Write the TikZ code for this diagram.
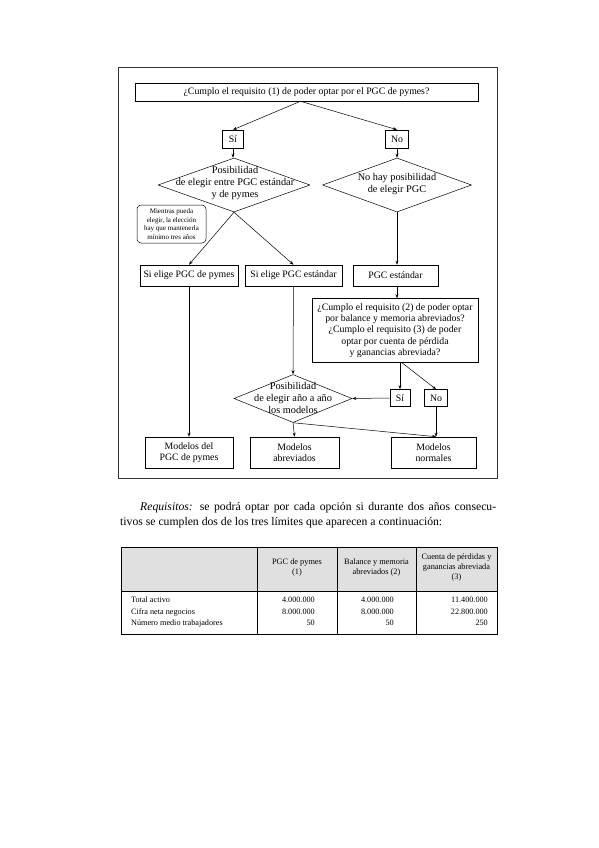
\documentclass[tikz,border=0pt]{standalone}
\usepackage{fontspec}
\setmainfont{Liberation Serif}
\usetikzlibrary{shapes.geometric,arrows.meta}
\begin{document}
\begin{tikzpicture}[x=1pt,y=-1pt,
  box/.style={draw,line width=0.6pt,inner sep=0pt,align=center,font=\fontsize{9.8}{11.2}\selectfont},
  dia/.style={draw,diamond,inner sep=0pt,line width=0.5pt},
  lbl/.style={inner sep=0pt,align=center,font=\fontsize{10.3}{12}\selectfont},
  arr/.style={-{Stealth[length=4pt,width=3pt]},line width=0.5pt},
  th/.style={inner sep=0pt,align=center,font=\fontsize{8.3}{10}\selectfont},
  td/.style={inner sep=0pt,font=\fontsize{8.2}{11.5}\selectfont},
]
\useasboundingbox (0,0) rectangle (599,848);
% frame
\draw[line width=1pt,black!80] (118,68) rectangle (497,478);
% nodes
\node[box,minimum width=343pt,minimum height=18pt] (top) at (306.5,92) {¿Cumplo el requisito (1) de poder optar por el PGC de pymes?};
\node[box,minimum width=21pt,minimum height=18pt] (si1) at (233,139) {Sí};
\node[box,minimum width=23pt,minimum height=18pt] (no1) at (397,139) {No};
\node[dia,minimum width=152pt,minimum height=54pt] (d1) at (234,185) {};
\node[lbl] (d1t) at (235,183) {Posibilidad\\de elegir entre PGC estándar\\y de pymes};
\node[dia,minimum width=149pt,minimum height=54pt] (d2) at (397,185) {};
\node[lbl] (d2t) at (397,184) {No hay posibilidad\\de elegir PGC};
\node[draw,rounded corners=4pt,line width=0.5pt,inner sep=0pt,minimum width=69pt,minimum height=38pt,align=center,font=\fontsize{7}{8.7}\selectfont] (note) at (171.5,224) {Mientras pueda\\elegir, la elección\\hay que mantenerla\\mínimo tres años};
\node[box,minimum width=98pt,minimum height=21pt] (b1) at (189,275.5) {Si elige PGC de pymes};
\node[box,minimum width=97pt,minimum height=21pt] (b2) at (293.5,275.5) {Si elige PGC estándar};
\node[box,minimum width=85pt,minimum height=21pt] (b3) at (395.5,275.5) {PGC estándar};
\node[box,minimum width=166pt,minimum height=64pt] (q) at (395,330.5) {¿Cumplo el requisito (2) de poder optar\\por balance y memoria abreviados?\\¿Cumplo el requisito (3) de poder\\optar por cuenta de pérdida\\y ganancias abreviada?};
\node[dia,minimum width=118pt,minimum height=48pt] (d3) at (293,398.5) {};
\node[lbl] (d3t) at (293,397.5) {Posibilidad\\de elegir año a año\\los modelos};
\node[box,minimum width=20pt,minimum height=17pt] (si2) at (400,398) {Sí};
\node[box,minimum width=23pt,minimum height=17pt] (no2) at (436,398) {No};
\node[box,minimum width=88pt,minimum height=31pt] (m1) at (189,452.5) {Modelos del\\PGC de pymes};
\node[box,minimum width=89pt,minimum height=31pt] (m2) at (294.5,452.5) {Modelos\\abreviados};
\node[box,minimum width=85pt,minimum height=31pt] (m3) at (433.5,452.5) {Modelos\\normales};
% connectors
\draw[arr] (top.south) ++(-6,0) coordinate (ts) -- (si1.north);
\draw[arr] (ts) -- (no1.north);
\draw[arr] (si1) -- (si1.south |- d1.north);
\draw[arr] (no1) -- (d2.north);
\draw[arr] (d1.south) -- (b1.north);
\draw[arr] (d1.south) -- (b2.north);
\draw[arr] (d2.south) -- (d2.south |- b3.north);
\draw[arr] (b3.south -| d2.south) -- (d2.south |- q.north);
\draw[arr] (b1) -- (m1);
\draw[arr] (b2) -- (d3.north);
\draw[arr] (d3.south) -- (m2.north);
\draw[arr] (d3.south) -- (no2.south |- m3.north);
\draw[arr] (si2.north |- q.south) -- (si2.north);
\draw[arr] ([xshift=2pt]si2.north |- q.south) -- (no2.north);
\draw[arr] (si2.west) -- (d3.east);
\draw[arr] (no2.south) -- (no2.south |- m3.north);
% paragraph
\node[anchor=base west,inner sep=0pt,font=\fontsize{11.7}{14}\selectfont] (p1) at (140,510) {\makebox[356pt][s]{\textit{Requisitos:} se podrá optar por cada opción si durante dos años consecu-}};
\node[anchor=base west,inner sep=0pt,font=\fontsize{11.7}{14}\selectfont] (p2) at (120,525) {tivos se cumplen dos de los tres límites que aparecen a continuación:};
% table
\fill[black!12] (121,547) rectangle (497,591);
\draw[line width=0.8pt] (121,547) rectangle (497,634);
\draw[line width=0.6pt] (121,591) -- (497,591);
\draw[line width=0.6pt] (257,547) -- (257,634);
\draw[line width=0.6pt] (337,547) -- (337,634);
\draw[line width=0.6pt] (416,547) -- (416,634);
\node[th] (h1) at (297,567) {PGC de pymes\\(1)};
\node[th] (h2) at (376.5,567) {Balance y memoria\\abreviados (2)};
\node[th] (h3) at (456.5,567) {Cuenta de pérdidas y\\ganancias abreviada\\(3)};
\node[td,anchor=north west,align=left] (c0) at (131,597) {Total activo\\Cifra neta negocios\\Número medio trabajadores};
\node[td,anchor=north east,align=right] (c1) at (315,597) {4.000.000\\8.000.000\\50};
\node[td,anchor=north east,align=right] (c2) at (394,597) {4.000.000\\8.000.000\\50};
\node[td,anchor=north east,align=right] (c3) at (488,597) {11.400.000\\22.800.000\\250};
\end{tikzpicture}
\end{document}
